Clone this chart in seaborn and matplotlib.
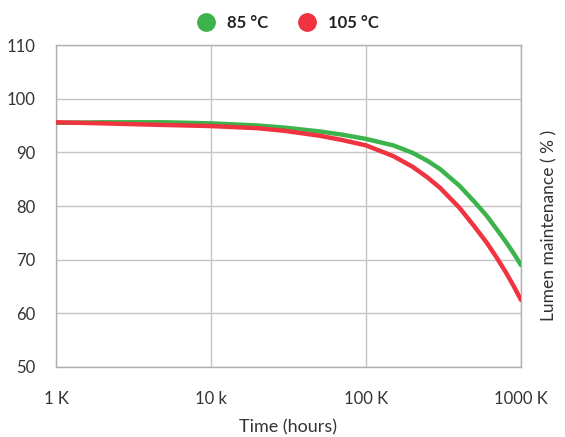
import numpy as np
import pandas as pd
import seaborn as sns
import matplotlib.pyplot as plt
from matplotlib.lines import Line2D

# Lumen maintenance (%) along the operating time (hours)
hours = [1000, 2000, 5000, 10000, 20000, 30000, 50000, 70000, 100000,
         150000, 200000, 250000, 300000, 400000, 500000, 600000,
         700000, 800000, 900000, 1000000]
lm_85 = [95.5, 95.6, 95.6, 95.4, 95.0, 94.6, 93.9, 93.3, 92.5,
         91.3, 89.9, 88.4, 86.9, 83.8, 80.8, 78.2,
         75.6, 73.3, 71.1, 69.0]
lm_105 = [95.6, 95.4, 95.1, 94.9, 94.5, 94.0, 93.1, 92.3, 91.3,
          89.3, 87.3, 85.3, 83.4, 79.7, 76.2, 73.2,
          70.3, 67.6, 65.0, 62.5]
series = ["85 °C", "105 °C"]
colors = ["#3cb44b", "#ef3340"]
x_ticks = [1000, 10000, 100000, 1000000]
x_labels = ["1 K", "10 k", "100 K", "1000 K"]
y_ticks = [50, 60, 70, 80, 90, 100, 110]

df = pd.DataFrame({
    "hours": hours * 2,
    "value": lm_85 + lm_105,
    "series": [series[0]] * len(hours) + [series[1]] * len(hours),
})

sns.set_theme(style="white")
plt.rcParams["font.family"] = ["Lato", "DejaVu Sans"]

fig = plt.figure(figsize=(5.65, 4.37), dpi=100)
ax = fig.add_axes([0.0991, 0.1602, 0.8230, 0.7368])

sns.lineplot(data=df, x="hours", y="value", hue="series",
             palette=dict(zip(series, colors)), linewidth=3.2,
             legend=False, ax=ax, zorder=3, solid_capstyle="round",
             solid_joinstyle="round")

ax.set_xscale("log")
ax.set_xlim(1000, 1000000)
ax.set_ylim(50, 110)
ax.set_xticks(x_ticks)
ax.set_xticklabels(x_labels)
ax.minorticks_off()
ax.set_yticks(y_ticks)
ax.tick_params(axis="x", length=0, labelsize=12, colors="#333333", pad=17)
ax.tick_params(axis="y", length=0, labelsize=12, colors="#333333", pad=15)
ax.grid(True, color="#c4c4c4", linewidth=1.0)
for s in ax.spines.values():
    s.set_color("#b0b0b0")
    s.set_linewidth(1.0)

ax.set_xlabel("Time (hours)", fontsize=13, color="#333333", labelpad=9)
ax.set_ylabel("")
fig.text(0.972, 0.485, "Lumen maintenance ( % )", rotation=90,
         ha="center", va="center", fontsize=12.5, color="#333333")

handles = [Line2D([], [], marker="o", linestyle="", markersize=12.5,
                  markerfacecolor=c, markeredgecolor=c) for c in colors]
leg = fig.legend(handles, series, loc="center", bbox_to_anchor=(0.503, 0.947),
                 ncol=2, frameon=False, handletextpad=0.25, columnspacing=1.3,
                 prop={"size": 12, "weight": "bold"})
for t in leg.get_texts():
    t.set_color("#222222")

fig.savefig("out.png", dpi=100)
